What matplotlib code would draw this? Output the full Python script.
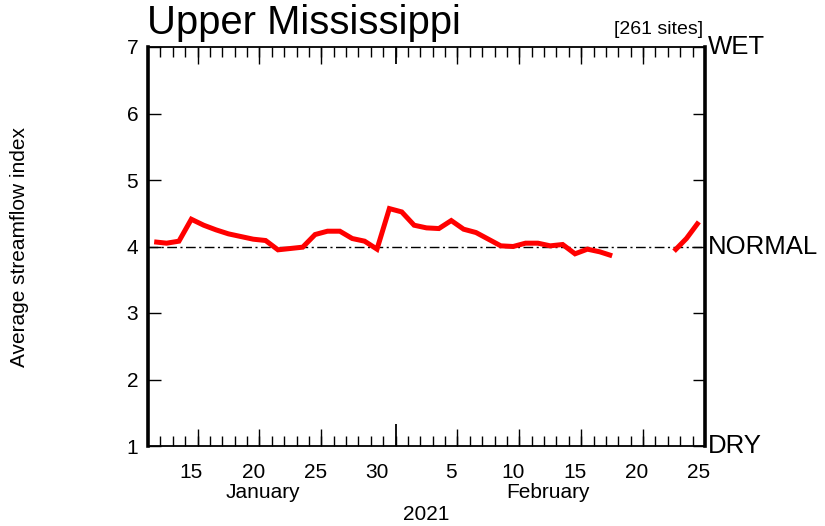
import numpy as np
import matplotlib
matplotlib.use("Agg")
import matplotlib.pyplot as plt
import matplotlib.transforms as mtransforms

plt.rcParams['font.family'] = ['Liberation Sans', 'DejaVu Sans']

# ---- data (day number: Jan d = d, Feb d = 31 + d) ----
days = list(range(12, 57))
index_values = [4.07, 4.05, 4.08, 4.41, 4.32, 4.25, 4.19, 4.15, 4.11, 4.09,
                3.95, 3.97, 3.99, 4.18, 4.23, 4.23, 4.12, 4.08, 3.96, 4.57,
                4.52, 4.32, 4.28, 4.27, 4.39, 4.26, 4.21, 4.11, 4.01, 4.00,
                4.05, 4.05, 4.01, 4.03, 3.89, 3.96, 3.92, 3.86,
                np.nan, np.nan, np.nan, np.nan,
                3.93, 4.12, 4.37]
normal_level = 4
tick_days = [15, 20, 25, 30, 36, 41, 46, 51, 56]
tick_labels = ["15", "20", "25", "30", "5", "10", "15", "20", "25"]
y_ticks = [1, 2, 3, 4, 5, 6, 7]
long_tick_days = [15.5, 20.5, 25.5, 36.5, 41.5, 46.5, 51.5]
month_boundary = [31.5]
month_names = ["January", "February"]
month_label_pos = [20.8, 43.8]
year_label = "2021"
year_label_pos = 34.0
title = "Upper Mississippi"
site_note = "[261 sites]"
side_labels = ["WET", "NORMAL", "DRY"]
side_label_vals = [7, 4, 1]

fig = plt.figure(figsize=(8.25, 5.26), dpi=100)
ax = fig.add_axes([148/825, 80/526, 557/825, 399/526])

ax.plot([11.5, 56.5], [normal_level, normal_level], color='black', lw=1.0,
        linestyle=(0, (7, 2.5, 1.5, 2.5)), zorder=2)
ax.plot(days, index_values, color='#ff0000', lw=3.6, solid_joinstyle='miter',
        solid_capstyle='butt', zorder=3)

ax.set_xlim(11.5, 56.5)
ax.set_ylim(1, 7)

# spines
for s in ['left', 'right']:
    ax.spines[s].set_linewidth(2.6)
for s in ['top', 'bottom']:
    ax.spines[s].set_linewidth(1.3)

# y ticks
ax.set_yticks(y_ticks)
ax.set_yticklabels([str(v) for v in y_ticks])
ax.tick_params(axis='y', which='major', direction='in', length=9, width=1.0,
               left=True, right=True, labelsize=15, pad=7)

# x: labels with zero-length ticks, minor day ticks
ax.set_xticks(tick_days)
ax.set_xticklabels(tick_labels)
ax.tick_params(axis='x', which='major', length=0, labelsize=15, pad=12)
ax.set_xticks(np.arange(12.5, 56.5, 1.0), minor=True)
ax.tick_params(axis='x', which='minor', direction='in', length=7.5, width=1.0,
               top=True, bottom=True)

# long ticks every five days
for loc in ['bottom', 'top']:
    sec = ax.secondary_xaxis(loc)
    sec.set_xticks(long_tick_days)
    sec.tick_params(direction='in', length=12, width=1.0, labelbottom=False,
                    labeltop=False)
    sec.spines[loc].set_visible(False)
    sec2 = ax.secondary_xaxis(loc)
    sec2.set_xticks(month_boundary)
    sec2.tick_params(direction='in', length=16 if loc == 'bottom' else 12,
                     width=1.3, labelbottom=False, labeltop=False)
    sec2.spines[loc].set_visible(False)

trans = mtransforms.blended_transform_factory(ax.transData, fig.transFigure)
for name, pos in zip(month_names, month_label_pos):
    ax.text(pos, 1 - 492/526, name, transform=trans, ha='center', va='center',
            fontsize=15)
ax.text(year_label_pos, 1 - 515/526, year_label, transform=trans, ha='center',
        va='center', fontsize=15)

fig.text(0.024, 1 - 247/526, "Average streamflow index", rotation=90,
         ha='center', va='center', fontsize=15)

fig.text(147/825, 1 - 34/526, title, ha='left', va='baseline', fontsize=28.8)
ax.text(0.997, 1.022, site_note, transform=ax.transAxes, ha='right',
        va='bottom', fontsize=14)

trans2 = mtransforms.blended_transform_factory(ax.transAxes, ax.transData)
for lab, v in zip(side_labels, side_label_vals):
    ax.text(1.006, v, lab, transform=trans2, ha='left', va='center',
            fontsize=18.5)

fig.savefig("out.png", dpi=100)
